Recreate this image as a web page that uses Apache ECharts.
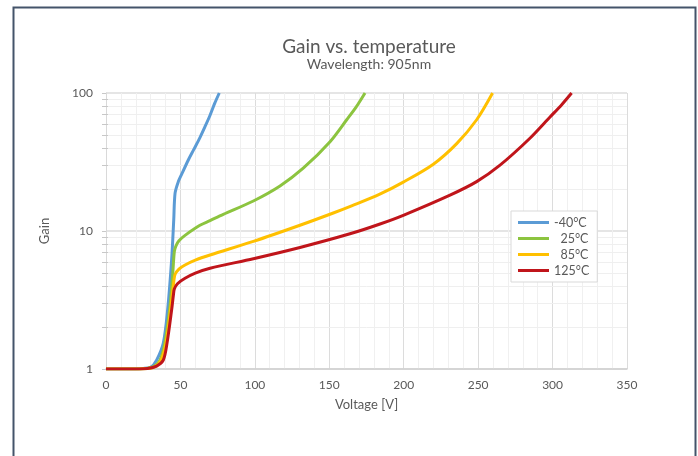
<!DOCTYPE html>
<html>
<head>
<meta charset="utf-8">
<script src="https://cdn.jsdelivr.net/npm/echarts@6/dist/echarts.min.js"></script>
<style>
  html, body { margin: 0; padding: 0; background: #fff; }
  #chart { width: 698px; height: 456px; }
</style>
</head>
<body>
<div id="chart"></div>
<script>
// voltages [V] and gains, one pair of arrays per temperature
var vMinus40 = [0, 15, 25, 30, 34, 38.5, 41.4, 44.1, 45.5, 46.4, 48.6, 51, 55.3, 59, 63.1, 66.5, 69.9, 73, 76.1];
var gMinus40 = [1, 1, 1.01, 1.03, 1.16, 1.54, 2.68, 6.2, 12, 18.8, 22.8, 26, 32.7, 39, 47.5, 57, 69, 84, 100];

var v25 = [0, 15, 27, 32, 36.3, 39.5, 42.7, 44.6, 45.9, 47, 49, 53.1, 63.1, 69.9, 78.8, 99, 116.9, 132.5, 150.5, 161.7, 168, 174];
var g25 = [1, 1, 1.01, 1.04, 1.16, 1.54, 2.68, 4.5, 7.1, 7.8, 8.5, 9.3, 11.0, 11.9, 13.2, 16.5, 21.2, 28.5, 44.4, 64, 79, 100];

var v85 = [0, 15, 28, 33, 37, 40.3, 43.3, 45.2, 46.4, 49, 53.1, 60, 69.9, 99, 130.3, 152.7, 165, 183.6, 199.7, 219.9, 235.6, 249, 259.7];
var g85 = [1, 1, 1.01, 1.04, 1.16, 1.54, 2.68, 4.0, 4.85, 5.3, 5.67, 6.15, 6.7, 8.4, 11.0, 13.5, 15.2, 18.4, 22.6, 30.5, 43, 64, 100];

var v125 = [0, 15, 28, 34, 38.5, 41, 44.1, 45.3, 45.9, 48, 53.1, 60, 69.9, 99, 130.3, 163.9, 183.6, 199.7, 231.1, 249, 264.7, 284.8, 298.3, 306, 312.8];
var g125 = [1, 1, 1.01, 1.05, 1.16, 1.54, 2.68, 3.45, 3.8, 4.15, 4.54, 4.95, 5.37, 6.3, 7.6, 9.55, 11.2, 13.0, 18.2, 22.8, 30, 47, 67, 82, 100];

var seriesNames = ['-40°C', '  25°C', '  85°C', '125°C'];
var seriesColors = ['#5b9bd5', '#8cc43f', '#ffc000', '#c0151b'];

// minor log gridlines
var minorGain = [2, 3, 4, 5, 6, 7, 8, 9, 20, 30, 40, 50, 60, 70, 80, 90];

function pairs(xs, ys) {
    var res = [];
    for (var i = 0; i < xs.length; i++) {
        res.push([xs[i], ys[i]]);
    }
    return res;
}

var allData = [
    pairs(vMinus40, gMinus40),
    pairs(v25, g25),
    pairs(v85, g85),
    pairs(v125, g125)
];

var textColor = '#595959';
var fontName = 'Lato';

var chart = echarts.init(document.getElementById('chart'));

var series = [{
    type: 'custom',
    silent: true,
    z: 1,
    data: minorGain.map(function (g) { return [0, g]; }),
    encode: { x: 0, y: 1 },
    renderItem: function (params, api) {
        var p = api.coord([0, api.value(1)]);
        var q = api.coord([350, api.value(1)]);
        var y = Math.round(p[1]) + 0.5;
        return {
            type: 'group',
            children: [
                { type: 'line', shape: { x1: p[0], y1: y, x2: q[0], y2: y }, style: { stroke: '#efefef', lineWidth: 1 } },
                { type: 'line', shape: { x1: p[0] - 4, y1: y, x2: p[0] + 2, y2: y }, style: { stroke: '#c8c8c8', lineWidth: 1 } }
            ]
        };
    }
}];

for (var i = 0; i < allData.length; i++) {
    series.push({
        name: seriesNames[i],
        type: 'line',
        data: allData[i],
        showSymbol: false,
        smooth: 0.3,
        color: seriesColors[i],
        lineStyle: { width: 3, color: seriesColors[i] },
        z: 3
    });
}

var option = {
    backgroundColor: '#fff',
    animation: false,
    textStyle: { fontFamily: fontName },
    title: {
        text: 'Gain vs. temperature',
        subtext: 'Wavelength: 905nm',
        left: 364,
        top: 32,
        textAlign: 'center',
        itemGap: 1,
        textStyle: { fontFamily: fontName, fontSize: 19, fontWeight: 'normal', color: textColor },
        subtextStyle: { fontFamily: fontName, fontSize: 14, color: textColor }
    },
    legend: {
        orient: 'vertical',
        left: 511,
        top: 211,
        padding: [5, 8, 5, 7],
        itemWidth: 31,
        itemHeight: 3,
        itemGap: 3,
        icon: 'rect',
        borderColor: '#d9d9d9',
        borderWidth: 1,
        backgroundColor: '#fff',
        data: seriesNames,
        textStyle: { fontFamily: fontName, fontSize: 12.5, color: textColor }
    },
    grid: { left: 106, right: 71, top: 93, bottom: 87 },
    xAxis: {
        type: 'value',
        min: 0,
        max: 350,
        interval: 50,
        name: 'Voltage [V]',
        nameLocation: 'middle',
        nameGap: 29,
        nameTextStyle: { fontFamily: fontName, fontSize: 13, color: textColor },
        axisLine: { show: true, lineStyle: { color: '#d0d0d0', width: 1.5 } },
        axisTick: { show: false },
        axisLabel: { margin: 10, fontFamily: fontName, fontSize: 12, color: textColor },
        splitLine: { show: true, lineStyle: { color: '#dcdcdc', width: 1 } },
        minorTick: { show: false, splitNumber: 5 },
        minorSplitLine: { show: true, lineStyle: { color: '#f0f0f0', width: 1 } }
    },
    yAxis: {
        type: 'log',
        logBase: 10,
        min: 1,
        max: 100,
        name: 'Gain',
        nameLocation: 'middle',
        nameGap: 55,
        nameTextStyle: { fontFamily: fontName, fontSize: 13, color: textColor },
        axisLine: { show: true, lineStyle: { color: '#d9d9d9', width: 1 } },
        axisTick: { show: true, length: 4, lineStyle: { color: '#c8c8c8' } },
        axisLabel: { margin: 13, fontFamily: fontName, fontSize: 12, color: textColor },
        splitLine: { show: true, lineStyle: { color: '#dcdcdc', width: 1.5 } }
    },
    graphic: [{
        type: 'rect',
        left: 11,
        top: 5,
        silent: true,
        shape: { width: 682, height: 470 },
        style: { fill: 'none', stroke: '#44546a', lineWidth: 2 }
    }],
    series: series
};

chart.setOption(option);
</script>
</body>
</html>
